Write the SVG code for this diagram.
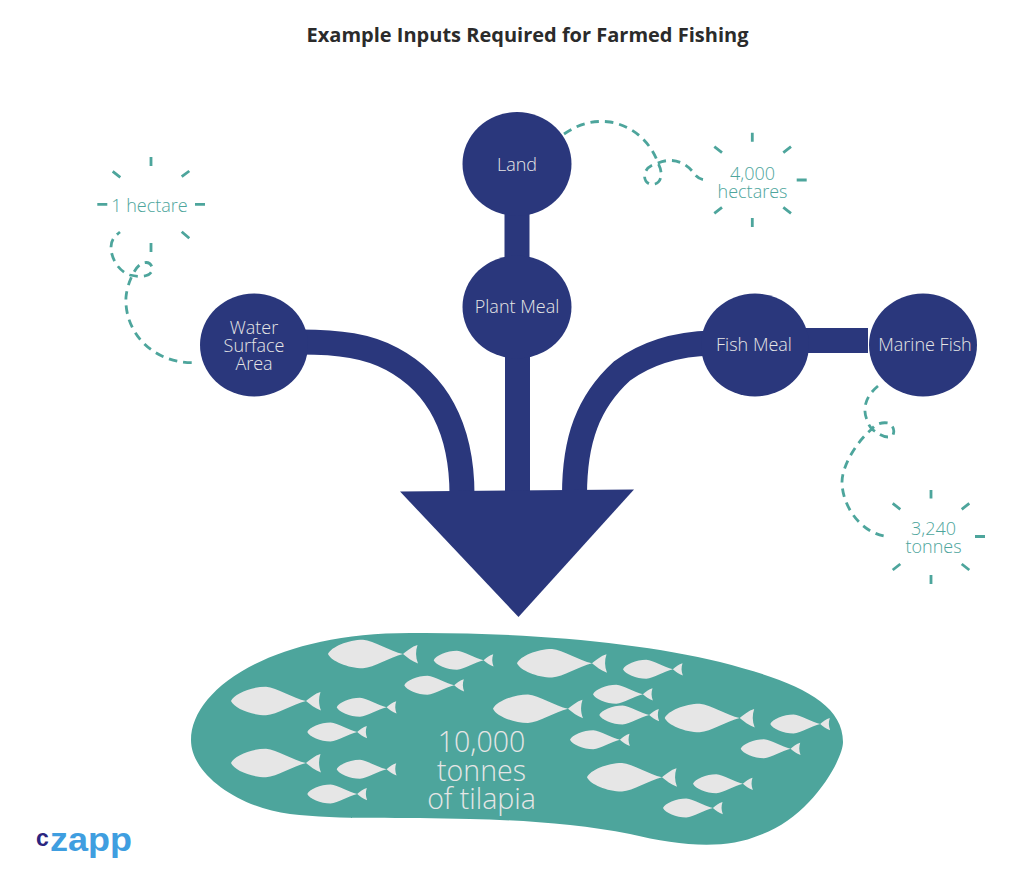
<svg xmlns="http://www.w3.org/2000/svg" width="1034" height="884" viewBox="0 0 1034 884">
  <style>
    text { font-family: "Open Sans", "Liberation Sans", sans-serif; text-anchor: middle; }
    .title { font-size: 20px; font-weight: 700; fill: #2b2b2b; }
    .node { fill: #2a377c; }
    .band { fill: none; stroke: #2a377c; stroke-width: 25; }
    .lbl { font-size: 18px; font-weight: 300; fill: #e6e6e6; }
    .qty { font-size: 18px; font-weight: 300; fill: #4da59c; }
    .big { font-size: 28.500px; font-weight: 300; fill: #e6e6e6; }
    .dash { fill: none; stroke: #4da59c; stroke-width: 2.8; stroke-dasharray: 8.5 6; }
    .tick { fill: none; stroke: #4da59c; stroke-width: 2.8; }
    .fish { fill: #e6e6e6; }
    .logo { font-family: "Liberation Sans", Arial, sans-serif; font-weight: 700; }
  </style>
  <defs>
    <path id="fish" d="M0,0 C3,-7 20,-14.3 35,-14.3 C46,-13 62,-3 75,0 C79,-3 84,-7.5 89.5,-9 C87.5,-3 87.5,3 90,9.5 C84,7.5 79,3 75,0 C62,3 46,13.5 35,14.3 C20,14.3 3,7 0,0 Z"/>
  </defs>

  <text class="title" x="527.5" y="42">Example Inputs Required for Farmed Fishing</text>

  <g id="connectors">
    <rect class="node" x="504.500" y="205" width="25" height="60"/>
    <rect class="node" x="505" y="350" width="25" height="145"/>
    <rect class="node" x="800" y="328" width="68" height="25"/>
    <path class="band" d="M300,342 C340,342 368,346 392,359 C435,382 462,425 462,495"/>
    <path class="band" d="M574.500,495 C574.500,440 588,402 622,371 C645,354 675,344 712,343"/>
    <path class="dash" d="M191.700,362.700 C150,362 124,330 126,297 C127,285 134,268 141,264 C148,260 153,265 152,270 C151,276 142,278 130,275 C118,271 111,258 111,247 C111,240 115,236 120,232"/>
    <path class="dash" d="M564,134 C580,123 595,120 610,122 C635,126 652,145 658,163 C663,172 662,182 655,184 C648,186 643,180 645,173 C647,167 652,165 658,163 C670,158 683,160 693,172 C697,178 701,180 708,180"/>
    <path class="dash" d="M878,386 C866,396 862,408 867,420 C868,424 870,427 872,429 C875,424 882,422 888,423 C893,425 895,430 893,435 C889,439 882,437 872,429 C858,440 842,465 842,482 C842,505 860,533 887,536.500"/>
  </g>

  <g id="arrowhead"><polygon class="node" points="400,491.500 634,489.500 518.500,617"/></g>

  <g id="node-land"><ellipse class="node" cx="517" cy="164" rx="54.500" ry="52"/><text class="lbl" x="517" y="170.500">Land</text></g>
  <g id="node-plant-meal"><ellipse class="node" cx="517" cy="307" rx="54.500" ry="51.500"/><text class="lbl" x="517" y="313">Plant Meal</text></g>
  <g id="node-water"><ellipse class="node" cx="254" cy="345" rx="54" ry="51.500"/>
    <text class="lbl" x="254" y="333.500">Water<tspan x="254" dy="18">Surface</tspan><tspan x="254" dy="18.500">Area</tspan></text></g>
  <g id="node-fish-meal"><ellipse class="node" cx="755" cy="345" rx="54" ry="51.500"/><text class="lbl" x="754" y="351">Fish Meal</text></g>
  <g id="node-marine-fish"><ellipse class="node" cx="923" cy="345" rx="54" ry="51.500"/><text class="lbl" x="925" y="351">Marine Fish</text></g>

  <g id="burst-hectare">
    <path class="tick" d="M151,157V166M181.700,176.700L189.300,171M112.700,171.300L120.300,177.300M97.300,204.300H107.300M195,204.300H205M181.700,231.700L189.300,238.300M151,243V252"/>
    <text class="qty" x="149.500" y="212">1 hectare</text>
  </g>
  <g id="burst-4000">
    <path class="tick" d="M752.300,132.700V141.700M752.300,218V227M796.700,180H806.700M714.300,146.700L722,152.700M783.300,152.700L791,146.700M714.300,213.300L722,207.300M783.300,207.300L791,213.300"/>
    <text class="qty" x="752.500" y="179.500">4,000<tspan x="752.500" dy="18.500">hectares</tspan></text>
  </g>
  <g id="burst-3240">
    <path class="tick" d="M931,490V498.500M931,575V584M975,536.500H985M892.700,503.300L900.300,509.300M961.700,509.300L969.300,503.300M892.700,570L900.300,564M961.700,564L969.300,570"/>
    <text class="qty" x="933.500" y="535">3,240<tspan x="933.500" dy="18">tonnes</tspan></text>
  </g>

  <g id="node-tilapia">
    <path fill="#4da59c" d="M191,740 C191,690 270,633 410,633 C520,632 640,642 720,662 C790,680 843,700 843,742 C843,760 810,818 760,835 C725,850 680,846 630,834 C580,824 520,820 470,819 C400,817 340,820 290,814 C240,808 191,775 191,740 Z"/>
    <g class="fish">
      <use href="#fish" transform="translate(328,654)"/>
      <use href="#fish" transform="translate(231,701)"/>
      <use href="#fish" transform="translate(231,763)"/>
      <use href="#fish" transform="translate(517,663.300)"/>
      <use href="#fish" transform="translate(493,708.700)"/>
      <use href="#fish" transform="translate(664.700,718)"/>
      <use href="#fish" transform="translate(587,777.300)"/>
      <use href="#fish" transform="translate(433.700,660.300) scale(.665)"/>
      <use href="#fish" transform="translate(404.300,685.300) scale(.665)"/>
      <use href="#fish" transform="translate(336.700,707.300) scale(.665)"/>
      <use href="#fish" transform="translate(307.300,732) scale(.665)"/>
      <use href="#fish" transform="translate(336.700,769.300) scale(.665)"/>
      <use href="#fish" transform="translate(307.300,794) scale(.665)"/>
      <use href="#fish" transform="translate(623,669.300) scale(.665)"/>
      <use href="#fish" transform="translate(593,694.300) scale(.665)"/>
      <use href="#fish" transform="translate(599.300,715) scale(.665)"/>
      <use href="#fish" transform="translate(770.300,724) scale(.665)"/>
      <use href="#fish" transform="translate(570,739.700) scale(.665)"/>
      <use href="#fish" transform="translate(740.700,748.700) scale(.665)"/>
      <use href="#fish" transform="translate(693,783.700) scale(.665)"/>
      <use href="#fish" transform="translate(663,808) scale(.665)"/>
    </g>
    <text class="big" x="481.500" y="752">10,000<tspan x="481.500" dy="28.500">tonnes</tspan><tspan x="481.500" dy="28.500">of tilapia</tspan></text>
  </g>

  <g id="logo">
    <text class="logo" x="42.500" y="845.500" style="font-size:23px;fill:#2b2580">c</text>
    <text class="logo" x="91" y="851" textLength="82" lengthAdjust="spacingAndGlyphs" style="font-size:34px;fill:#3f9ee0">zapp</text>
  </g>
</svg>
